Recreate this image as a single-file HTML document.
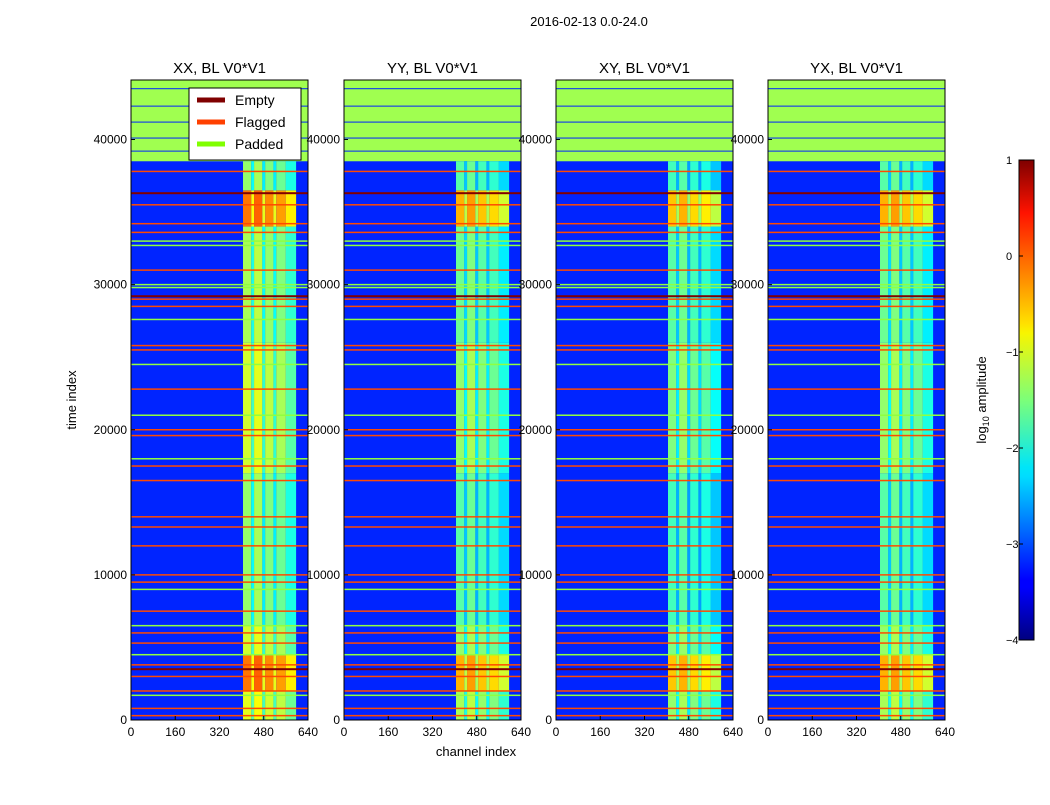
<!DOCTYPE html>
<html><head><meta charset="utf-8">
<style>
body{margin:0;background:#fff;width:1050px;height:800px;overflow:hidden;font-family:"Liberation Sans",sans-serif;}
svg text{font-family:"Liberation Sans",sans-serif;}
</style></head>
<body>
<svg id="fig" width="1050" height="800" xmlns="http://www.w3.org/2000/svg">
<defs>
<linearGradient id="jet" x1="0" y1="1" x2="0" y2="0">
<stop offset="0" stop-color="#00007f"/><stop offset="0.11" stop-color="#0000ff"/>
<stop offset="0.125" stop-color="#0000ff"/><stop offset="0.34" stop-color="#00dcff"/>
<stop offset="0.36" stop-color="#00e5f8"/><stop offset="0.5" stop-color="#7cff79"/>
<stop offset="0.64" stop-color="#f8f500"/><stop offset="0.66" stop-color="#ffe000"/>
<stop offset="0.89" stop-color="#ff1300"/><stop offset="1" stop-color="#7f0000"/>
</linearGradient>
</defs>
<text x="589" y="26" font-size="13" text-anchor="middle">2016-02-13 0.0-24.0</text>
<g id="panels"></g>
<text x="476" y="756" font-size="13" text-anchor="middle">channel index</text>
<text transform="translate(76,400) rotate(-90)" font-size="13" text-anchor="middle">time index</text>
<g>
<rect x="1019" y="160" width="15" height="480" fill="url(#jet)" stroke="#000" stroke-width="1"/>
<g id="cbticks"></g>
<text transform="translate(986,400) rotate(-90)" font-size="13" text-anchor="middle">log<tspan font-size="9" dy="3">10</tspan><tspan dy="-3"> amplitude</tspan></text>
</g>
</svg>
<script>
// ---- data ----
const panelTitles = ["XX, BL V0*V1","YY, BL V0*V1","XY, BL V0*V1","YX, BL V0*V1"];
const panelOffsets = [0.0, -0.3, -0.4, -0.3];
const xTicks = [0,160,320,480,640];
const yTicks = [0,10000,20000,30000,40000];
const cbTicks = [1,0,-1,-2,-3,-4];
const timeMax = 44100;
const paddedStart = 38500;
const backgroundValue = -3.2;
// channel bands: [start, end, offset]
const channelBands = [[405,435,0.1],[435,445,-0.6],[445,475,0.2],[475,485,-0.7],[485,515,0.0],[515,525,-0.7],[525,560,-0.1],[560,597,-0.5]];
// column time segments: [t0, t1, value]
const colSegments = [[0,2000,-1.1],[2000,4500,-0.3],[4500,6500,-1.2],[6500,17000,-1.5],[17000,26000,-1.2],[26000,34000,-1.4],[34000,36500,-0.3],[36500,38500,-1.5]];
// special rows
const flaggedRows = [37800,35500,34200,33600,31000,29000,28500,25800,25500,22800,20000,19600,17500,16500,14000,13300,12000,10000,9500,7500,6000,5300,3800,3000,2000,800,300];
const paddedRows = [33000,32700,30000,29800,27600,24500,21000,18000,9000,6500,4500,1700];
const emptyRows = [36300,29200,3500];
const blueRowsInPadded = [43500,42300,41200,40100,39200];
// ---- helpers ----
function jet(v){
  let t=Math.max(0,Math.min(1,(v+4)/5));
  const f=(x)=>Math.max(0,Math.min(1,x));
  const r=f(1.5-Math.abs(4*t-3)),g=f(1.5-Math.abs(4*t-2)),b=f(1.5-Math.abs(4*t-1));
  return `rgb(${Math.round(r*255)},${Math.round(g*255)},${Math.round(b*255)})`;
}
const NS="http://www.w3.org/2000/svg";
function el(tag,attrs,parent){const e=document.createElementNS(NS,tag);for(const k in attrs)e.setAttribute(k,attrs[k]);parent.appendChild(e);return e;}
const panelX=[131,344,556,768], pw=177, topY=80, bottomY=720;
const panelsG=document.getElementById('panels');
panelTitles.forEach((title,p)=>{
  const x0=panelX[p];
  const sx=c=>x0+c/640*pw, sy=t=>bottomY-t/timeMax*(bottomY-topY);
  const g=el('g',{},panelsG);
  
  
  let r=el('rect',{x:x0,y:topY,width:pw,height:bottomY-topY,fill:jet(backgroundValue)},g);
  
  
  r=el('rect',{x:x0,y:sy(timeMax),width:pw,height:sy(paddedStart)-sy(timeMax),fill:'#a0ff50'},g);
  
  
  blueRowsInPadded.forEach(t=>{const e=el('rect',{x:x0,y:sy(t)-0.5,width:pw,height:1,fill:jet(-3.2)},g);
    
    });
  colSegments.forEach(s=>{channelBands.forEach(b=>{
    const v=s[2]+b[2]+panelOffsets[p];
    const e=el('rect',{x:sx(b[0]),y:sy(s[1]),width:sx(b[1])-sx(b[0]),height:sy(s[0])-sy(s[1]),fill:jet(v)},g);
    
    
  });});
  paddedRows.forEach(t=>{const e=el('rect',{x:x0,y:sy(t)-0.75,width:pw,height:1.5,fill:'#90ff40'},g);
    
    });
  flaggedRows.forEach(t=>{const e=el('rect',{x:x0,y:sy(t)-0.75,width:pw,height:1.5,fill:'#ff4a00'},g);
    
    });
  emptyRows.forEach(t=>{const e=el('rect',{x:x0,y:sy(t)-1,width:pw,height:2,fill:'#800000'},g);
    
    });
  r=el('rect',{x:x0,y:topY,width:pw,height:bottomY-topY,fill:'none',stroke:'#000','stroke-width':1},g);
  
  
  let tt=el('text',{x:x0+pw/2,y:73,'font-size':15,'text-anchor':'middle'},g);tt.textContent=title;
  
  
  xTicks.forEach(v=>{const tx=el('text',{x:sx(v),y:736,'font-size':12,'text-anchor':'middle'},g);tx.textContent=v;
    
    
    el('line',{x1:sx(v),x2:sx(v),y1:bottomY,y2:bottomY-4,stroke:'#000'},g);});
  yTicks.forEach(v=>{const ty=el('text',{x:x0-4,y:sy(v)+4,'font-size':12,'text-anchor':'end'},g);ty.textContent=v;
    
    
    el('line',{x1:x0,x2:x0+4,y1:sy(v),y2:sy(v),stroke:'#000'},g);});
});
// legend
const legendLabels=["Empty","Flagged","Padded"], legendColors=["#800000","#ff4000","#80ff00"];
const lg=el('g',{},document.getElementById('fig'));


el('rect',{x:189,y:88,width:112,height:72,fill:'#fff',stroke:'#000'},lg);
legendLabels.forEach((l,i)=>{
  el('line',{x1:197,x2:225,y1:100+i*22,y2:100+i*22,stroke:legendColors[i],'stroke-width':5},lg);
  const t=el('text',{x:235,y:105+i*22,'font-size':14},lg);t.textContent=l;
  
  
});
// colorbar ticks
const cb=document.getElementById('cbticks');
cbTicks.forEach(v=>{const y=160+(1-v)/5*480;
  el('line',{x1:1019,x2:1023,y1:y,y2:y,stroke:'#000'},cb);
  const t=el('text',{x:1006,y:y+4,'font-size':11,'text-anchor':'start'},cb);
  t.textContent=v<0?'\u2212'+(-v):v;
  
  
});
</script>
</body></html>
